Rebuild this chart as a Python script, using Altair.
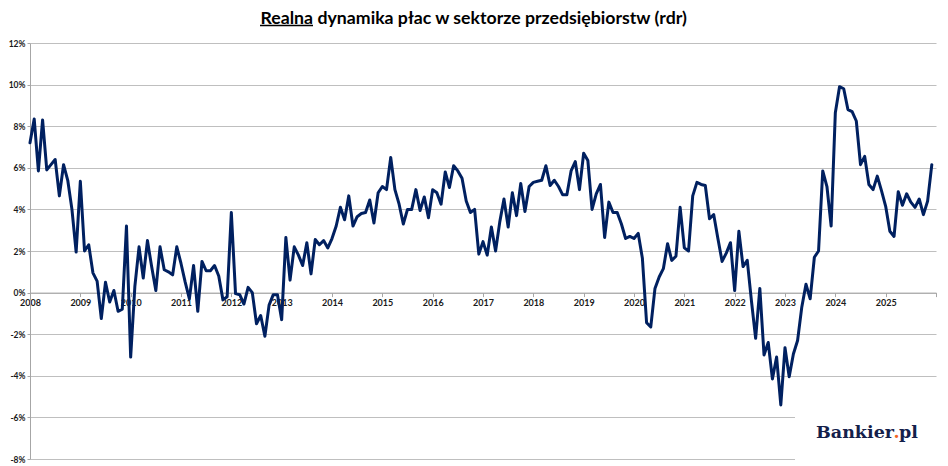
import altair as alt
import pandas as pd

# ---- data: real wage growth y/y (%) in the enterprise sector, monthly ----
years = list(range(2008, 2026))
w2008 = [7.2, 8.35, 5.85, 8.3, 5.9, 6.15, 6.4, 4.65, 6.15, 5.4, 4.0, 1.95]
w2009 = [5.35, 2.0, 2.3, 0.95, 0.55, -1.25, 0.5, -0.45, 0.1, -0.9, -0.8, 3.2]
w2010 = [-3.1, 0.3, 2.2, 0.7, 2.5, 1.25, 0.1, 2.2, 1.1, 1.0, 0.85, 2.2]
w2011 = [1.4, 0.5, -0.3, 1.3, -0.9, 1.5, 1.05, 1.05, 1.3, 0.8, -0.35, -0.2]
w2012 = [3.85, -0.05, -0.1, -0.55, 0.25, 0.0, -1.5, -1.1, -2.1, -0.6, -0.1, -0.1]
w2013 = [-1.3, 2.65, 0.6, 2.2, 1.8, 1.3, 2.4, 0.9, 2.55, 2.3, 2.5, 2.15]
w2014 = [2.6, 3.2, 4.1, 3.5, 4.65, 3.2, 3.65, 3.8, 3.85, 4.45, 3.35, 4.8]
w2015 = [5.1, 4.95, 6.5, 4.95, 4.25, 3.3, 4.0, 4.0, 4.95, 3.95, 4.6, 3.6]
w2016 = [4.95, 4.8, 4.25, 5.8, 5.05, 6.1, 5.85, 5.5, 4.4, 3.85, 4.0, 1.85]
w2017 = [2.45, 1.8, 3.15, 2.0, 3.4, 4.5, 3.15, 4.8, 3.7, 5.25, 3.9, 5.1]
w2018 = [5.3, 5.35, 5.4, 6.1, 5.15, 5.4, 5.1, 4.7, 4.7, 5.85, 6.3, 4.95]
w2019 = [6.7, 6.35, 4.0, 4.75, 5.2, 2.65, 4.35, 3.85, 3.85, 3.3, 2.6, 2.7]
w2020 = [2.6, 2.85, 1.65, -1.45, -1.65, 0.2, 0.75, 1.15, 2.35, 1.55, 1.75, 4.1]
w2021 = [2.15, 2.0, 4.65, 5.3, 5.2, 5.15, 3.55, 3.75, 2.6, 1.5, 1.9, 2.4]
w2022 = [0.1, 2.95, 1.25, 1.55, -0.4, -2.2, 0.2, -3.0, -2.4, -4.15, -3.1, -5.4]
w2023 = [-2.65, -4.05, -2.95, -2.3, -0.7, 0.4, -0.3, 1.7, 2.0, 5.85, 5.1, 3.2]
w2024 = [8.65, 9.9, 9.8, 8.8, 8.7, 8.25, 6.15, 6.55, 5.2, 4.95, 5.6, 4.9]
w2025 = [4.15, 2.95, 2.7, 4.85, 4.2, 4.75, 4.35, 4.1, 4.5, 3.75, 4.4, 6.15]
series = [w2008, w2009, w2010, w2011, w2012, w2013, w2014, w2015, w2016,
          w2017, w2018, w2019, w2020, w2021, w2022, w2023, w2024, w2025]

y_ticks = list(range(-8, 13, 2))
tick_years = list(range(2008, 2027))

title_bold_part = "Realna"
title_rest = "dynamika płac w sektorze przedsiębiorstw (rdr)"

rows = []
for yr, vals in zip(years, series):
    for mi, v in enumerate(vals):
        rows.append({"t": (yr - 2008) * 12 + mi, "v": v})
df = pd.DataFrame(rows)

W, H = 906, 416
Y_MIN, Y_MAX = -8, 12
zero_offset = -H * (0 - Y_MIN) / (Y_MAX - Y_MIN)
tick_vals = [(y - 2008) * 12 for y in tick_years]
last_tick = tick_vals[-1]

GRID = "#BFBFBF"
AXIS = "#A6A6A6"
LABEL = "#1a1a1a"
NAVY = "#002060"

line = alt.Chart(df).mark_line(
    color=NAVY, strokeWidth=3, strokeJoin="round", strokeCap="round"
).encode(
    x=alt.X("t:Q",
            scale=alt.Scale(domain=[0, last_tick], nice=False, zero=False),
            axis=alt.Axis(values=tick_vals,
                          labelExpr=f"datum.value >= {last_tick} ? '' : toString(2008 + datum.value / 12)",
                          grid=False, offset=zero_offset, tickSize=4,
                          domainColor=AXIS, tickColor=AXIS, labelFont="Lato",
                          labelFontSize=9, labelFontWeight="bold", labelColor=LABEL,
                          labelPadding=2, labelFlush=False, title=None)),
    y=alt.Y("v:Q",
            scale=alt.Scale(domain=[Y_MIN, Y_MAX], nice=False, zero=False),
            axis=alt.Axis(values=y_ticks, labelExpr="datum.value + '%'",
                          gridColor=GRID, domainColor=AXIS, tickColor=AXIS,
                          tickSize=3, labelPadding=2, labelFont="Lato",
                          labelFontSize=8.5, labelFontWeight="bold",
                          labelColor=LABEL, title=None)),
)

one = pd.DataFrame({"a": [0]})

split_x = 283
realna_w = 53
t1 = alt.Chart(one).mark_text(
    text=title_bold_part, font="Lato", fontSize=17.7, fontWeight="bold",
    color="#000000", align="right", baseline="alphabetic"
).encode(x=alt.value(split_x), y=alt.value(-19.5))
t2 = alt.Chart(one).mark_text(
    text=title_rest, font="Lato", fontSize=17.7, fontWeight="bold",
    color="#000000", align="left", baseline="alphabetic"
).encode(x=alt.value(split_x + 4.5), y=alt.value(-19.5))
underline = alt.Chart(one).mark_rule(color="#000000", strokeWidth=1.5).encode(
    x=alt.value(split_x - realna_w), x2=alt.value(split_x), y=alt.value(-17.5)
)

cover = alt.Chart(one).mark_rect(color="white").encode(
    x=alt.value(765), x2=alt.value(915), y=alt.value(362), y2=alt.value(425)
)
logo_font = dict(font="DejaVu Serif", fontSize=17.5, fontWeight="bold", baseline="alphabetic")
l1 = alt.Chart(one).mark_text(text="Bankier", color="#14204a", align="right", **logo_font).encode(
    x=alt.value(864), y=alt.value(395))
l2 = alt.Chart(one).mark_text(text=".", color="#F26522", align="center", **logo_font).encode(
    x=alt.value(866.5), y=alt.value(395))
l3 = alt.Chart(one).mark_text(text="pl", color="#14204a", align="left", **logo_font).encode(
    x=alt.value(869), y=alt.value(395))

chart = alt.layer(line, cover, t1, t2, underline, l1, l2, l3).properties(
    width=W, height=H,
    autosize=alt.AutoSizeParams(type="none"),
    padding={"left": 22, "top": 35, "right": 4, "bottom": 7},
    background="white",
).configure_view(stroke=None)

chart.save("out.html", embed_options={"renderer": "svg", "actions": False})
